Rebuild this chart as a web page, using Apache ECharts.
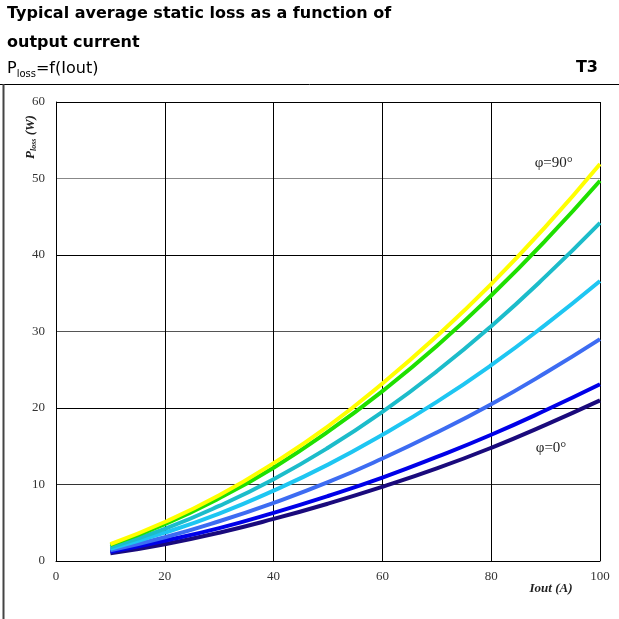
<!DOCTYPE html>
<html><head><meta charset="utf-8">
<script src="https://cdn.jsdelivr.net/npm/echarts@6/dist/echarts.min.js"></script>
<style>html,body{margin:0;padding:0;background:#fff}#c{width:619px;height:619px}</style>
</head><body><div id="c"></div>
<script>
const xValues = [10, 20, 30, 40, 50, 60, 70, 80, 90, 100];
const yellow = [2.2, 5.1, 8.6, 12.8, 17.6, 23.2, 29.4, 36.2, 43.7, 51.9];
const green = [2.1, 4.8, 8.2, 12.2, 16.9, 22.2, 28.1, 34.7, 41.9, 49.7];
const teal = [1.8, 4.2, 7.2, 10.7, 14.8, 19.5, 24.8, 30.7, 37.2, 44.2];
const lightBlue = [1.6, 3.7, 6.2, 9.2, 12.6, 16.5, 20.8, 25.6, 30.9, 36.6];
const mediumBlue = [1.4, 3.1, 5.2, 7.6, 10.3, 13.4, 16.8, 20.5, 24.6, 29.0];
const blue = [1.2, 2.65, 4.3, 6.3, 8.5, 10.9, 13.6, 16.5, 19.7, 23.1];
const navy = [1.0, 2.2, 3.7, 5.5, 7.5, 9.7, 12.1, 14.8, 17.8, 21.0];
const allSeries = [navy, blue, mediumBlue, lightBlue, teal, green, yellow];
const colors = ['#1a0a7c', '#0000e8', '#3d6cf2', '#1ec6f2', '#1cbcca', '#1fe000', '#ffff00'];
const curveLabels = ['φ=90°', 'φ=0°'];
const xTicks = [0, 20, 40, 60, 80, 100];
const yTicks = [0, 10, 20, 30, 40, 50, 60];

const chart = echarts.init(document.getElementById('c'));
const serif = '"Liberation Serif", "DejaVu Serif", serif';
const sans = '"DejaVu Sans", Verdana, sans-serif';
chart.setOption({
  animation: false,
  grid: {left: 56, right: 19, top: 102, bottom: 58},
  xAxis: {
    type: 'value', min: xTicks[0], max: xTicks[xTicks.length - 1], interval: 20,
    axisLine: {show: true, lineStyle: {color: '#000', width: 1}},
    axisTick: {show: false},
    axisLabel: {color: '#333', fontFamily: serif, fontSize: 13, margin: 9},
    splitLine: {show: true, lineStyle: {color: '#000', width: 1}}
  },
  yAxis: {
    type: 'value', min: yTicks[0], max: yTicks[yTicks.length - 1], interval: 10,
    axisLine: {show: true, lineStyle: {color: '#000', width: 1}},
    axisTick: {show: false},
    axisLabel: {color: '#333', fontFamily: serif, fontSize: 13, margin: 11},
    splitLine: {show: true, lineStyle: {color: ['#000', '#333', '#000', '#555', '#000', '#888', '#000'], width: 1}}
  },
  series: allSeries.map((d, i) => ({
    type: 'line', smooth: true, symbol: 'none',
    data: d.map((v, j) => [xValues[j], v]),
    lineStyle: {color: colors[i], width: 4},
    z: 2 + i
  }))
});

const p90 = chart.convertToPixel({gridIndex: 0}, [91.5, 52]);
const p0 = chart.convertToPixel({gridIndex: 0}, [91, 14.7]);
chart.setOption({
  graphic: [
    {type: 'line', shape: {x1: 0, y1: 84.5, x2: 619, y2: 84.5}, style: {stroke: '#000', lineWidth: 1}},
    {type: 'line', shape: {x1: 3.5, y1: 84, x2: 3.5, y2: 619}, style: {stroke: '#444', lineWidth: 2}},
    {type: 'text', x: 7, y: 6, style: {text: 'Typical average static loss as a function of', font: 'bold 16px ' + sans, fill: '#000'}},
    {type: 'text', x: 7, y: 35, style: {text: 'output current', font: 'bold 16px ' + sans, fill: '#000'}},
    {type: 'text', x: 7, y: 59, style: {
      text: '{a|P}{b|loss}{a|=f(Iout)}',
      rich: {a: {fontFamily: sans, fontSize: 16, fill: '#000'}, b: {fontFamily: sans, fontSize: 10, fill: '#000', padding: [10, 0, 0, 0]}}
    }},
    {type: 'text', x: 598, y: 60, style: {text: 'T3', font: 'bold 16px ' + sans, fill: '#000', align: 'right'}},
    {type: 'text', x: p90[0], y: p90[1], style: {text: curveLabels[0], font: '15px ' + serif, fill: '#222', align: 'center', verticalAlign: 'middle'}},
    {type: 'text', x: p0[0], y: p0[1], style: {text: curveLabels[1], font: '15px ' + serif, fill: '#222', align: 'center', verticalAlign: 'middle'}},
    {type: 'text', x: 551, y: 589, style: {text: 'Iout (A)', font: 'italic bold 13px ' + serif, fill: '#222', align: 'center', verticalAlign: 'middle'}},
    {type: 'text', x: 31, y: 137, rotation: Math.PI / 2, style: {
      text: '{a|P}{b|loss}{a| (W)}', align: 'center', verticalAlign: 'middle',
      rich: {a: {fontFamily: serif, fontSize: 13, fontStyle: 'italic', fontWeight: 'bold', fill: '#222'},
             b: {fontFamily: serif, fontSize: 8, fontStyle: 'italic', fontWeight: 'bold', fill: '#222', padding: [5, 0, 0, 0]}}
    }}
  ]
});
</script></body></html>
